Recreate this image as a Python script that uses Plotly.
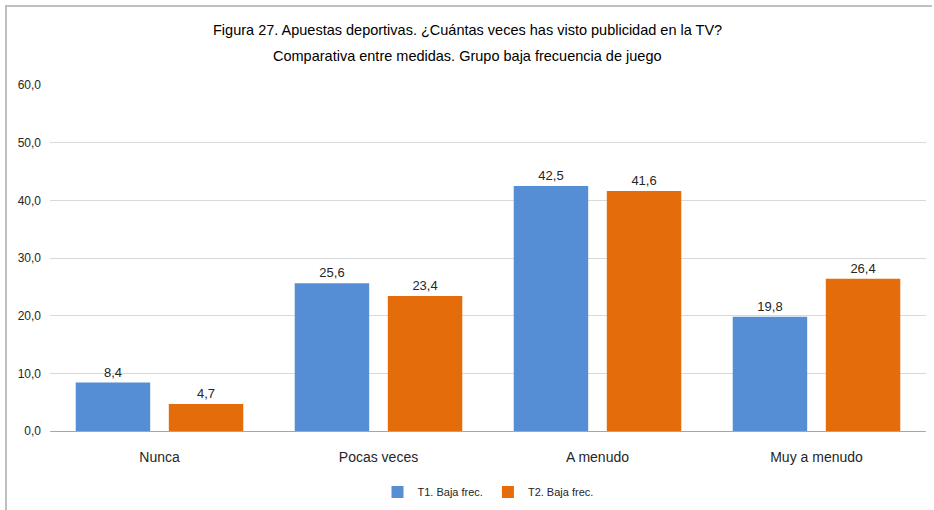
import plotly.graph_objects as go

categorias = ["Nunca", "Pocas veces", "A menudo", "Muy a menudo"]
t1_baja = [8.4, 25.6, 42.5, 19.8]
t2_baja = [4.7, 23.4, 41.6, 26.4]
series = ["T1. Baja frec.", "T2. Baja frec."]
colores = ["#558ED5", "#E46C0A"]
titulo = [
    "Figura 27. Apuestas deportivas. ¿Cuántas veces has visto publicidad en la TV?",
    "Comparativa entre medidas. Grupo baja frecuencia de juego",
]

FONT = "Liberation Sans, Arial, sans-serif"

W, H = 934, 510
ML, MR, MT, MB = 50, 8, 85, 79
PW, PH = W - ML - MR, H - MT - MB


def px(x):
    return (x - ML) / PW


def py(y):
    return (H - MB - y) / PH


fig = go.Figure()
for nombre, valores, color in zip(series, [t1_baja, t2_baja], colores):
    fig.add_trace(go.Bar(
        x=categorias, y=valores, name=nombre,
        marker=dict(color=color, line=dict(width=0)),
        texttemplate="%{y:.1f}", textposition="outside",
        textfont=dict(family=FONT, size=13, color="#262626"),
        cliponaxis=False,
    ))

# chart frame lines (top and left edges)
fig.add_shape(type="line", xref="paper", yref="paper",
              x0=px(5), x1=px(932), y0=py(6), y1=py(6),
              line=dict(color="#BFBFBF", width=2))
fig.add_shape(type="line", xref="paper", yref="paper",
              x0=px(6), x1=px(6), y0=py(6), y1=py(512),
              line=dict(color="#BFBFBF", width=2))

# two-line chart title
for linea, ypix in zip(titulo, [30, 56]):
    fig.add_annotation(text=linea, xref="paper", yref="paper",
                       x=px(W / 2), y=py(ypix), xanchor="center", yanchor="middle",
                       showarrow=False,
                       font=dict(family=FONT, size=14.5, color="#000000"))

fig.update_layout(
    width=W, height=H,
    margin=dict(l=ML, r=MR, t=MT, b=MB),
    paper_bgcolor="white", plot_bgcolor="white",
    separators=",.",
    font=dict(family=FONT, color="#404040"),
    barmode="group", bargap=0.15, bargroupgap=0.2,
    showlegend=True,
    legend=dict(orientation="h", x=0.5, xanchor="center",
                yref="container", y=1 - 492 / H, yanchor="middle",
                font=dict(family=FONT, size=11, color="#262626"),
                itemwidth=30, traceorder="normal"),
    xaxis=dict(showgrid=False, showline=True, linecolor="#A6A6A6", linewidth=1,
               ticks="", tickfont=dict(family=FONT, size=14, color="#262626"),
               ticklabelstandoff=13),
    yaxis=dict(range=[0, 60], dtick=10, tickformat=".1f", showgrid=True,
               gridcolor="#D9D9D9", gridwidth=1, zeroline=False, showline=False,
               ticks="", tickfont=dict(family=FONT, size=12, color="#262626"),
               ticklabelstandoff=8),
)

fig.write_html("out.html")
